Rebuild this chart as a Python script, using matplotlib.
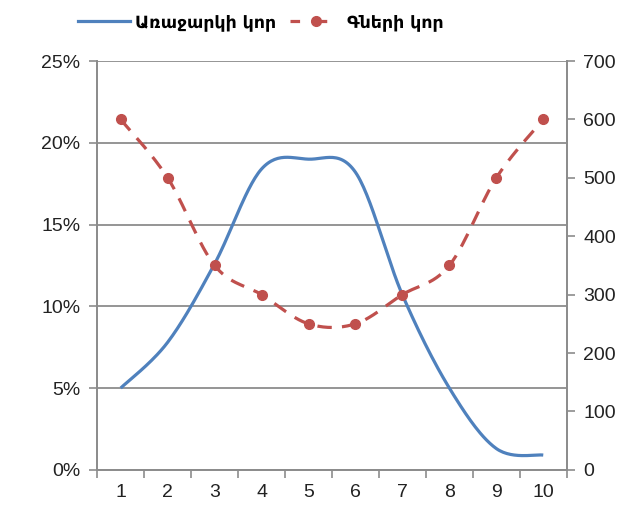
import numpy as np
import matplotlib
matplotlib.use('Agg')
import matplotlib.pyplot as plt
from matplotlib.lines import Line2D
from matplotlib.ticker import FixedLocator, NullFormatter

# data
periods = [1, 2, 3, 4, 5, 6, 7, 8, 9, 10]
supply_pct = [5.0, 7.8, 12.6, 18.4, 19.0, 18.2, 10.7, 5.0, 1.3, 0.9]
prices = [600, 500, 350, 300, 250, 250, 300, 350, 500, 600]
supply_label = 'Առաջարկի կոր'
price_label = 'Գների կոր'

BLUE = '#4F81BD'
RED = '#C0504D'
GRID = '#8C8C8C'


def smooth(xs, ys, steps=30):
    '''Excel-like smoothed line: cubic bezier through the points'''
    P = np.column_stack([xs, ys]).astype(float)
    n = len(P)
    out = [P[0]]
    t = np.linspace(0, 1, steps)[1:, None]
    for i in range(n - 1):
        p0 = P[max(i - 1, 0)]
        p1, p2 = P[i], P[i + 1]
        p3 = P[min(i + 2, n - 1)]
        c1 = p1 + (p2 - p0) / 6
        c2 = p2 - (p3 - p1) / 6
        seg = ((1 - t)**3) * p1 + 3 * ((1 - t)**2) * t * c1 + 3 * (1 - t) * t**2 * c2 + t**3 * p2
        out.extend(seg)
    out = np.array(out)
    return out[:, 0], out[:, 1]


plt.rcParams['font.family'] = ['Liberation Sans', 'DejaVu Sans']
fig = plt.figure(figsize=(6.44, 5.22), dpi=100)
ax = fig.add_axes([0.151, 0.100, 0.729, 0.783])
ax2 = ax.twinx()

sx, sy = smooth(periods, supply_pct)
ax.plot(sx, sy, color=BLUE, lw=2.3, solid_capstyle='butt', zorder=3)

px, py = smooth(periods, prices)
ax2.plot(px, py, color=RED, lw=2.3, dashes=(4.5, 3.2), zorder=3)
ax2.plot(periods, prices, 'o', color=RED, ms=7, zorder=4)

ax.set_xlim(0.5, 10.5)
ax.set_ylim(0, 25)
ax2.set_ylim(0, 700)

ax.set_yticks([0, 5, 10, 15, 20, 25])
ax.set_yticklabels([f'{v}%' for v in [0, 5, 10, 15, 20, 25]])
ax2.set_yticks(range(0, 701, 100))
ax.set_xticks(periods)
ax.set_xticklabels([str(p) for p in periods])
ax.xaxis.set_minor_locator(FixedLocator(np.arange(0.5, 11, 1)))
ax.xaxis.set_minor_formatter(NullFormatter())
ax.tick_params(axis='x', which='major', length=0, pad=10)
ax.tick_params(axis='x', which='minor', length=6, color=GRID, width=1.2, direction='out')
ax.tick_params(axis='y', length=6, color=GRID, width=1.2, direction='out', pad=6)
ax2.tick_params(axis='y', length=6, color=GRID, width=1.2, direction='out', pad=6)
for a in (ax, ax2):
    a.tick_params(labelsize=14, labelcolor='#222222')

ax.grid(axis='y', color=GRID, lw=1.3)
ax.set_axisbelow(True)
for a in (ax, ax2):
    a.spines['top'].set_visible(False)
    for s in ('left', 'right', 'bottom'):
        a.spines[s].set_color(GRID)
        a.spines[s].set_linewidth(1.3)
ax.set_zorder(ax2.get_zorder() - 1)
ax.patch.set_visible(False)

handles = [
    Line2D([], [], color=BLUE, lw=2.3),
    Line2D([], [], color=RED, lw=2.3, dashes=(3, 5.5), marker='o', ms=7),
]
fig.legend(handles, [supply_label, price_label], loc='center', bbox_to_anchor=(0.405, 0.958),
           ncol=2, frameon=False, handlelength=3.0, handletextpad=0.3, columnspacing=0.8,
           prop={'family': 'DejaVu Sans', 'size': 12.5, 'weight': 'bold'})

fig.savefig('out.png', dpi=100)
